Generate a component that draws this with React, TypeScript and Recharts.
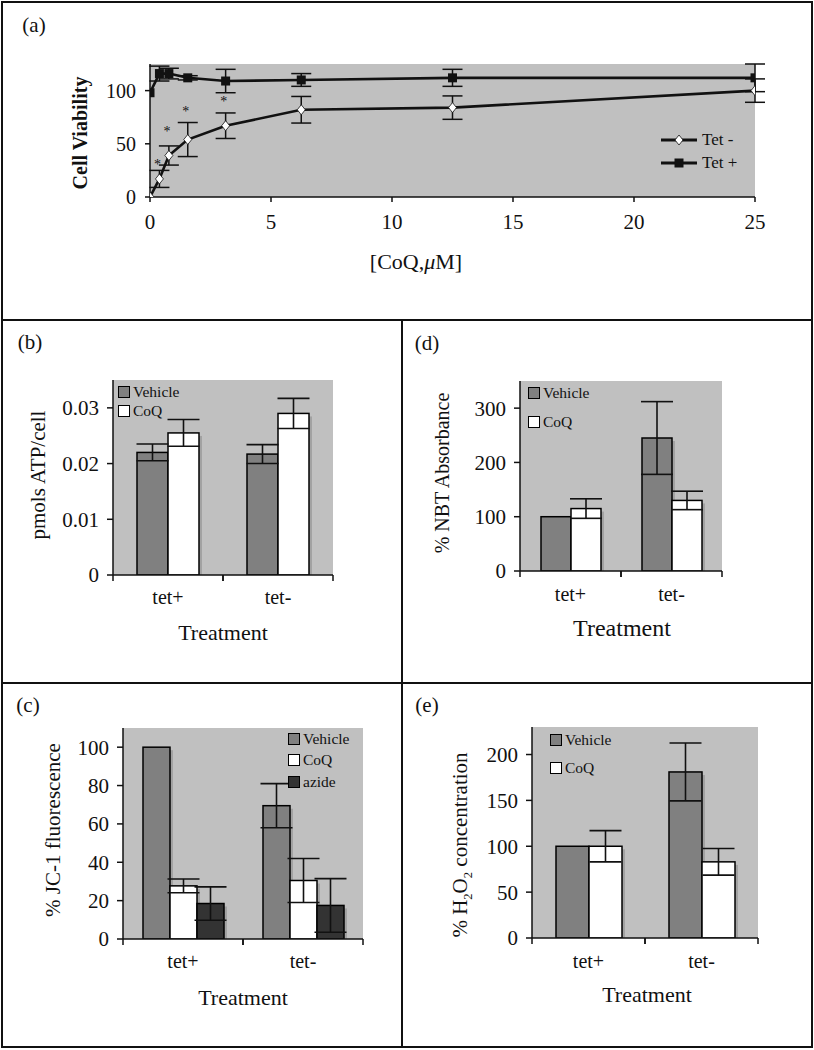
import React from 'react';
import {
  ComposedChart,
  BarChart,
  Bar,
  Line,
  XAxis,
  YAxis,
  ErrorBar,
  CartesianGrid,
  Legend,
} from 'recharts';

const FONT = '"Liberation Serif", "Times New Roman", Times, serif';
const INK = '#111';
const PLOT_BG = '#c0c0c0';
const FRAME = '#666';
const VEHICLE = '#808080';
const COQ = '#ffffff';
const AZIDE = '#333333';

// (a) cell viability vs CoQ dose
const coqDoses = [0, 0.39, 0.78, 1.56, 3.125, 6.25, 12.5, 25];
const tetPlus = [98, 116, 116, 112, 109, 110, 112, 112];
const tetPlusErr = [0, 7, 5, 2, 11, 6, 8, 13];
const tetMinus = [0, 17, 39, 54, 67, 82, 84, 100];
const tetMinusErr = [0, 8, 9, 16, 12, 12.5, 11, 11];
const starMarks = [null, 31, 62, 81, 90, null, null, null];
const doseTicks = [0, 5, 10, 15, 20, 25];
const viabilityTicks = [0, 50, 100];

// bar panels
const treatments = ['tet+', 'tet-'];

const atpVehicle = [0.022, 0.0217];
const atpVehicleErr = [0.0015, 0.0017];
const atpCoq = [0.0255, 0.029];
const atpCoqErr = [0.0024, 0.0027];
const atpTicks = [0, 0.01, 0.02, 0.03];

const jcVehicle = [100, 69.5];
const jcVehicleErr = [0, 11.5];
const jcCoq = [27.7, 30.5];
const jcCoqErr = [3.6, 11.5];
const jcAzide = [18.5, 17.5];
const jcAzideErr = [8.7, 14];
const jcTicks = [0, 20, 40, 60, 80, 100];

const nbtVehicle = [100, 245];
const nbtVehicleErr = [0, 67];
const nbtCoq = [115, 130];
const nbtCoqErr = [18, 17];
const nbtTicks = [0, 100, 200, 300];

const h2o2Vehicle = [100, 181];
const h2o2VehicleErr = [0, 31.5];
const h2o2Coq = [100, 83];
const h2o2CoqErr = [17, 14.5];
const h2o2Ticks = [0, 50, 100, 150, 200];

const doseRows = coqDoses.map((d, i) => ({
  dose: d,
  tetPlus: tetPlus[i],
  tetPlusErr: tetPlusErr[i],
  tetMinus: tetMinus[i],
  tetMinusErr: tetMinusErr[i],
  star: starMarks[i],
}));

type Series = { key: string; name: string; fill: string; values: number[]; errs: number[] };

function buildRows(series: Series[]) {
  return treatments.map((t, i) => {
    const row: Record<string, string | number> = { name: t };
    series.forEach((s) => {
      row[s.key] = s.values[i];
      row[s.key + 'Err'] = s.errs[i];
    });
    return row;
  });
}

const SquareDot = (p: any) => (
  <rect key={`sq-${p.index}`} x={p.cx - 4.5} y={p.cy - 4.5} width={9} height={9} fill={INK} />
);

const DiamondDot = (p: any) => (
  <polygon
    key={`dm-${p.index}`}
    points={`${p.cx},${p.cy - 5} ${p.cx + 4},${p.cy} ${p.cx},${p.cy + 5} ${p.cx - 4},${p.cy}`}
    fill="#fff"
    stroke={INK}
    strokeWidth={0.8}
  />
);

const StarDot = (p: any) => {
  if (p.value == null || p.cx == null || p.cy == null) return <g key={`st-${p.index}`} />;
  return (
    <text key={`st-${p.index}`} x={p.cx - 2} y={p.cy + 5} textAnchor="middle" fontSize={14} fontFamily={FONT} fill={INK}>
      *
    </text>
  );
};

// excel-ish bar with a soft drop shadow
const ShadowBar = (p: any) => {
  const { x, y, width, height, fill } = p;
  if (!height || height <= 0) return <g />;
  return (
    <g>
      <rect x={x + 3} y={y + 3} width={width} height={Math.max(height - 3, 0)} fill="#a2a2a2" />
      <rect x={x} y={y} width={width} height={height} fill={fill} stroke="#000" strokeWidth={1.5} />
    </g>
  );
};

const makeCatTick = (band: number, axisY: number, size: number) => (p: any) => {
  const { x, y, payload } = p;
  return (
    <g>
      <line x1={x - band / 2} y1={axisY} x2={x - band / 2} y2={axisY + 6} stroke={INK} strokeWidth={1.5} />
      <line x1={x + band / 2} y1={axisY} x2={x + band / 2} y2={axisY + 6} stroke={INK} strokeWidth={1.5} />
      <text x={x} y={y} dy="0.71em" textAnchor="middle" fontSize={size} fontFamily={FONT} fill={INK}>
        {payload.value}
      </text>
    </g>
  );
};

const Txt = ({ x, y, size, children, bold }: any) => (
  <div
    style={{
      position: 'absolute',
      left: x,
      top: y,
      transform: 'translate(-50%, -50%)',
      whiteSpace: 'nowrap',
      fontFamily: FONT,
      fontSize: size,
      fontWeight: bold ? 700 : 400,
      color: INK,
      lineHeight: 1,
    }}
  >
    {children}
  </div>
);

const VTxt = ({ x, y, size, children, bold }: any) => (
  <div
    style={{
      position: 'absolute',
      left: x,
      top: y,
      transform: 'translate(-50%, -50%) rotate(-90deg)',
      whiteSpace: 'nowrap',
      fontFamily: FONT,
      fontSize: size,
      fontWeight: bold ? 700 : 400,
      color: INK,
      lineHeight: 1,
    }}
  >
    {children}
  </div>
);

const viabilityLegend = [
  { name: 'Tet -', dot: 'diamond' },
  { name: 'Tet +', dot: 'square' },
];

const ViabilityLegend = () => (
  <div style={{ fontFamily: FONT, fontSize: 17, color: INK }}>
    {viabilityLegend.map((s) => (
      <div key={s.name} style={{ display: 'flex', alignItems: 'center', height: 23 }}>
        <svg width={38} height={12}>
          <line x1={1} y1={6} x2={37} y2={6} stroke={INK} strokeWidth={3} />
          {s.dot === 'square' ? (
            <rect x={14.5} y={1.5} width={9} height={9} fill={INK} />
          ) : (
            <polygon points="19,1 23,6 19,11 15,6" fill="#fff" stroke={INK} strokeWidth={0.8} />
          )}
        </svg>
        <span style={{ marginLeft: 4 }}>{s.name}</span>
      </div>
    ))}
  </div>
);

const BarLegend = ({ items, rowH }: { items: Series[]; rowH: number }) => (
  <div style={{ fontFamily: FONT, fontSize: 15.5, color: INK }}>
    {items.map((it) => (
      <div key={it.key} style={{ display: 'flex', alignItems: 'center', height: rowH }}>
        <span
          style={{
            display: 'inline-block',
            width: 10,
            height: 10,
            background: it.fill,
            border: '1px solid #000',
            marginRight: 3,
          }}
        />
        {it.name}
      </div>
    ))}
  </div>
);

type BarPanelProps = {
  x: number;
  y: number;
  w: number;
  h: number;
  margin: { top: number; right: number; left: number; bottom: number };
  domain: [number, number];
  ticks: number[];
  series: Series[];
  barSize: number;
  tickMargin: number;
  legend: { left: number; top: number; rowH: number };
};

function BarPanel({ x, y, w, h, margin, domain, ticks, series, barSize, tickMargin, legend }: BarPanelProps) {
  const plotW = w - margin.left - margin.right - 60;
  const band = plotW / treatments.length;
  const axisY = h - margin.bottom - 30;
  return (
    <div style={{ position: 'absolute', left: x, top: y }}>
      <BarChart width={w} height={h} data={buildRows(series)} margin={margin} barGap={0}>
        <CartesianGrid horizontal={false} vertical={false} fill={PLOT_BG} />
        <XAxis
          dataKey="name"
          height={30}
          interval={0}
          tickLine={false}
          tickSize={6}
          tickMargin={tickMargin}
          axisLine={{ stroke: INK, strokeWidth: 1.5 }}
          tick={makeCatTick(band, axisY, 20)}
        />
        <XAxis xAxisId="top" orientation="top" dataKey="name" height={0} tick={false} tickLine={false} axisLine={{ stroke: FRAME }} />
        <YAxis
          domain={domain}
          ticks={ticks}
          interval={0}
          allowDataOverflow
          width={60}
          tickSize={6}
          tickMargin={8}
          axisLine={{ stroke: INK, strokeWidth: 1.5 }}
          tickLine={{ stroke: INK, strokeWidth: 1.5 }}
          tick={{ fill: INK, fontSize: 21, fontFamily: FONT }}
        />
        <YAxis yAxisId="r" orientation="right" width={0} tick={false} tickLine={false} axisLine={{ stroke: FRAME }} />
        {series.map((s) => (
          <Bar key={s.key} dataKey={s.key} name={s.name} fill={s.fill} barSize={barSize} shape={ShadowBar} isAnimationActive={false}>
            <ErrorBar dataKey={s.key + 'Err'} width={16} stroke={INK} strokeWidth={1.6} />
          </Bar>
        ))}
        <Legend
          layout="vertical"
          align="center"
          verticalAlign="middle"
          wrapperStyle={{ left: legend.left, top: legend.top, width: 'auto', height: 'auto' }}
          content={() => <BarLegend items={series} rowH={legend.rowH} />}
        />
      </BarChart>
    </div>
  );
}

const atpSeries: Series[] = [
  { key: 'vehicle', name: 'Vehicle', fill: VEHICLE, values: atpVehicle, errs: atpVehicleErr },
  { key: 'coq', name: 'CoQ', fill: COQ, values: atpCoq, errs: atpCoqErr },
];
const nbtSeries: Series[] = [
  { key: 'vehicle', name: 'Vehicle', fill: VEHICLE, values: nbtVehicle, errs: nbtVehicleErr },
  { key: 'coq', name: 'CoQ', fill: COQ, values: nbtCoq, errs: nbtCoqErr },
];
const jcSeries: Series[] = [
  { key: 'vehicle', name: 'Vehicle', fill: VEHICLE, values: jcVehicle, errs: jcVehicleErr },
  { key: 'coq', name: 'CoQ', fill: COQ, values: jcCoq, errs: jcCoqErr },
  { key: 'azide', name: 'azide', fill: AZIDE, values: jcAzide, errs: jcAzideErr },
];
const h2o2Series: Series[] = [
  { key: 'vehicle', name: 'Vehicle', fill: VEHICLE, values: h2o2Vehicle, errs: h2o2VehicleErr },
  { key: 'coq', name: 'CoQ', fill: COQ, values: h2o2Coq, errs: h2o2CoqErr },
];

const rule = (left: number, top: number, width: number, height: number) => (
  <div style={{ position: 'absolute', left, top, width, height, background: INK }} />
);

export default function App() {
  return (
    <div style={{ position: 'absolute', left: 0, top: 0, width: 814, height: 1050, background: '#fff', fontFamily: FONT }}>
      {/* (a) */}
      <div style={{ position: 'absolute', left: 0, top: 0 }}>
        <ComposedChart width={814} height={320} data={doseRows} margin={{ top: 64, right: 59, left: 90, bottom: 93 }}>
          <CartesianGrid horizontal={false} vertical={false} fill={PLOT_BG} />
          <XAxis
            type="number"
            dataKey="dose"
            domain={[0, 25]}
            ticks={doseTicks}
            interval={0}
            allowDataOverflow
            height={30}
            tickSize={5}
            tickMargin={12}
            axisLine={{ stroke: INK, strokeWidth: 1.5 }}
            tickLine={{ stroke: INK, strokeWidth: 1.5 }}
            tick={{ fill: INK, fontSize: 21, fontFamily: FONT }}
          />
          <XAxis xAxisId="top" orientation="top" type="number" dataKey="dose" domain={[0, 25]} height={0} tick={false} tickLine={false} axisLine={{ stroke: '#333', strokeWidth: 2 }} />
          <YAxis
            domain={[0, 125]}
            ticks={viabilityTicks}
            interval={0}
            allowDataOverflow
            width={60}
            tickSize={5}
            tickMargin={9}
            axisLine={{ stroke: INK, strokeWidth: 1.5 }}
            tickLine={{ stroke: INK, strokeWidth: 1.5 }}
            tick={{ fill: INK, fontSize: 20, fontFamily: FONT }}
          />
          <YAxis yAxisId="r" orientation="right" width={0} tick={false} tickLine={false} axisLine={{ stroke: '#333', strokeWidth: 2 }} />
          <Line dataKey="tetMinus" name="Tet -" stroke={INK} strokeWidth={2.6} dot={DiamondDot} isAnimationActive={false}>
            <ErrorBar dataKey="tetMinusErr" direction="y" width={10} stroke={INK} strokeWidth={1.5} />
          </Line>
          <Line dataKey="tetPlus" name="Tet +" stroke={INK} strokeWidth={2.6} dot={SquareDot} isAnimationActive={false}>
            <ErrorBar dataKey="tetPlusErr" direction="y" width={10} stroke={INK} strokeWidth={1.5} />
          </Line>
          <Line dataKey="star" stroke="none" dot={StarDot} isAnimationActive={false} legendType="none" />
          <Legend
            layout="vertical"
            align="center"
            verticalAlign="middle"
            wrapperStyle={{ left: 660, top: 128, width: 'auto', height: 'auto' }}
            content={() => <ViabilityLegend />}
          />
        </ComposedChart>
      </div>
      <Txt x={34} y={25} size={21}>(a)</Txt>
      <VTxt x={80} y={133} size={20} bold>Cell Viability</VTxt>
      <Txt x={416} y={262} size={22}>
        [CoQ,<i>μ</i>M]
      </Txt>

      {/* (b) */}
      <BarPanel
        x={0}
        y={320}
        w={400}
        h={363}
        margin={{ top: 60, right: 67, left: 53, bottom: 78 }}
        domain={[0, 0.035]}
        ticks={atpTicks}
        series={atpSeries}
        barSize={31}
        tickMargin={9}
        legend={{ left: 118, top: 62, rowH: 19 }}
      />
      <Txt x={30} y={342} size={21}>(b)</Txt>
      <VTxt x={38} y={475} size={21}>pmols ATP/cell</VTxt>
      <Txt x={223} y={633} size={22}>Treatment</Txt>

      {/* (d) */}
      <BarPanel
        x={402}
        y={320}
        w={410}
        h={363}
        margin={{ top: 61, right: 90, left: 58, bottom: 82 }}
        domain={[0, 350]}
        ticks={nbtTicks}
        series={nbtSeries}
        barSize={30}
        tickMargin={10}
        legend={{ left: 126, top: 58, rowH: 29 }}
      />
      <Txt x={427} y={343} size={21}>(d)</Txt>
      <VTxt x={442} y={473} size={20}>% NBT Absorbance</VTxt>
      <Txt x={622} y={628} size={24}>Treatment</Txt>

      {/* (c) */}
      <BarPanel
        x={0}
        y={683}
        w={400}
        h={364}
        margin={{ top: 45, right: 37, left: 63, bottom: 78 }}
        domain={[0, 110]}
        ticks={jcTicks}
        series={jcSeries}
        barSize={27}
        tickMargin={9}
        legend={{ left: 288, top: 45, rowH: 21.5 }}
      />
      <Txt x={28} y={705} size={21}>(c)</Txt>
      <VTxt x={53} y={830} size={21}>% JC-1 fluorescence</VTxt>
      <Txt x={243} y={998} size={22}>Treatment</Txt>

      {/* (e) */}
      <BarPanel
        x={402}
        y={683}
        w={410}
        h={364}
        margin={{ top: 44, right: 54, left: 70, bottom: 79 }}
        domain={[0, 230]}
        ticks={h2o2Ticks}
        series={h2o2Series}
        barSize={33}
        tickMargin={10}
        legend={{ left: 148, top: 43, rowH: 28 }}
      />
      <Txt x={427} y={705} size={21}>(e)</Txt>
      <VTxt x={462} y={845} size={21}>
        % H<sub style={{ fontSize: '0.6em' }}>2</sub>O<sub style={{ fontSize: '0.6em' }}>2</sub> concentration
      </VTxt>
      <Txt x={647} y={995} size={22}>Treatment</Txt>

      {/* panel frames */}
      <div style={{ position: 'absolute', left: 1, top: 1, width: 812, height: 1047, border: `2px solid ${INK}`, boxSizing: 'border-box' }} />
      {rule(1, 319, 812, 2)}
      {rule(1, 682, 812, 2)}
      {rule(401, 319, 2, 729)}
    </div>
  );
}
